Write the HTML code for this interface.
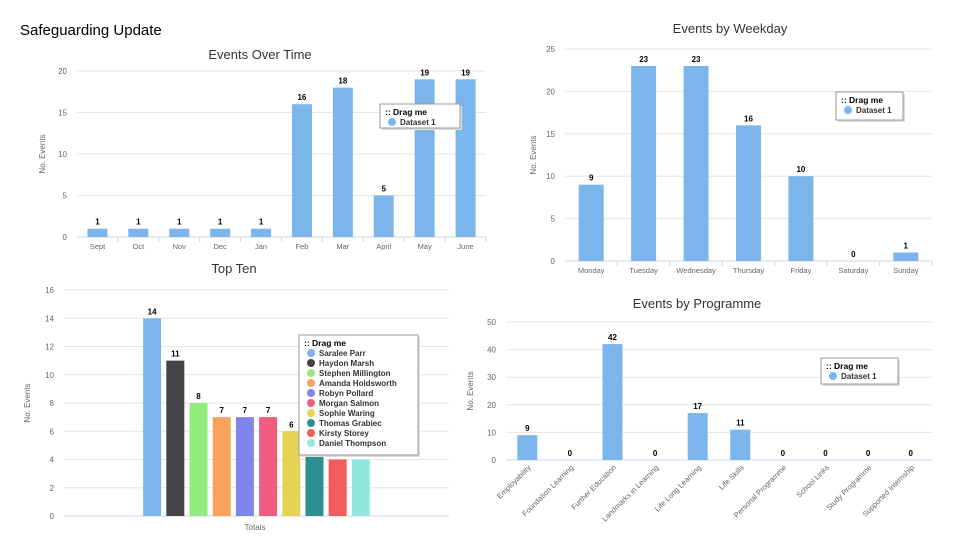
<!DOCTYPE html>
<html><head><meta charset="utf-8"><style>
body{margin:0;width:960px;height:540px;background:#fff;overflow:hidden;font-family:"Liberation Sans",sans-serif;position:relative}
#title{position:absolute;left:20px;top:22px;font-size:15px;color:#000}
svg{position:absolute;left:0;top:0}
</style></head><body>
<div id="title">Safeguarding Update</div>
<svg id="s" width="960" height="540"></svg>
<script>
const timeCats=["Sept","Oct","Nov","Dec","Jan","Feb","Mar","April","May","June"];
const timeVals=[1,1,1,1,1,16,18,5,19,19];
const timeTicks=[0,5,10,15,20];
const dayCats=["Monday","Tuesday","Wednesday","Thursday","Friday","Saturday","Sunday"];
const dayVals=[9,23,23,16,10,0,1];
const dayTicks=[0,5,10,15,20,25];
const topNames=["Saralee Parr","Haydon Marsh","Stephen Millington","Amanda Holdsworth","Robyn Pollard","Morgan Salmon","Sophie Waring","Thomas Grabiec","Kirsty Storey","Daniel Thompson"];
const topVals=[14,11,8,7,7,7,6,5,4,4];
const topTicks=[0,2,4,6,8,10,12,14,16];
const progCats=["Employability","Foundation Learning","Further Education","Landmarks in Learning","Life Long Learning","Life Skills","Personal Programme","School Links","Study Programme","Supported Internship"];
const progVals=[9,0,42,0,17,11,0,0,0,0];
const progTicks=[0,10,20,30,40,50];
const topColors=["#7cb5ec","#434348","#90ed7d","#f7a35c","#8085e9","#f15c80","#e4d354","#2b908f","#f45b5b","#91e8e1"];

const NS="http://www.w3.org/2000/svg";
const svg=document.getElementById('s');
function mk(tag,attrs,parent,txt){const e=document.createElementNS(NS,tag);for(const k in attrs)e.setAttribute(k,attrs[k]);if(txt!==undefined)e.textContent=txt;(parent||svg).appendChild(e);return e;}

function chart(o){
  const g=mk('g',{});
  
  
  const max=o.ticks[o.ticks.length-1];
  const y=v=>o.y0-(v/max)*(o.y0-o.y1);
  const n=o.cats?o.cats.length:o.vals.length;
  const step=(o.x1-o.x0)/(o.slots||n);
  const x=i=>o.x0+(o.offset||0)*step+step*(i+0.5);
  const t=mk('text',{x:o.tx,y:o.ty,'text-anchor':'middle','font-size':o.tsize||13,fill:'#333'},g,o.title);
  
  
  const yt=mk('text',{x:o.yax,y:(o.y0+o.y1)/2,'text-anchor':'middle','font-size':8,fill:'#666',transform:`rotate(-90 ${o.yax} ${(o.y0+o.y1)/2})`},g,'No. Events');
  
  
  o.ticks.forEach(v=>{
    if(v>0){const l=mk('line',{x1:o.x0,x2:o.x1,y1:y(v),y2:y(v),stroke:'#e6e6e6','stroke-width':1},g);
    
    }
    const tl=mk('text',{x:o.x0-10,y:y(v)+3,'text-anchor':'end','font-size':8,fill:'#666'},g,v);
    
    
  });
  const ax=mk('line',{x1:o.x0,x2:o.x1,y1:o.y0,y2:o.y0,stroke:'#ccd6eb','stroke-width':1},g);
  
  
  o.vals.forEach((v,i)=>{
    const b=mk('rect',{x:x(i)-o.bw/2,y:y(v),width:o.bw,height:o.y0-y(v),fill:o.colors?o.colors[i]:'#7cb5ec'},g);
    
    
    const lb=mk('text',{x:x(i),y:y(v)-4,'text-anchor':'middle','font-size':8,'font-weight':'bold',fill:'#000'},g,v);
    
    
  });
  if(o.cats){
    o.cats.forEach((c,i)=>{
      if(!o.rot){const tk=mk('line',{x1:o.x0+step*(i+1),x2:o.x0+step*(i+1),y1:o.y0,y2:o.y0+5,stroke:'#ccd6eb'},g);
      
      }
      const attrs=o.rot?{x:x(i)+4,y:o.y0+8,'text-anchor':'end','font-size':7.5,fill:'#666',transform:`rotate(-45 ${x(i)+4} ${o.y0+8})`}:{x:x(i),y:o.y0+12,'text-anchor':'middle','font-size':7.5,fill:'#666'};
      const cl=mk('text',attrs,g,c);
      
      
    });
  }
  // legend
  const L=o.legend;
  const lg=mk('g',{},g);
  
  
  mk('rect',{x:L.x+2,y:L.y+2,width:L.w,height:L.h,fill:'#ddd'},lg);
  mk('rect',{x:L.x,y:L.y,width:L.w,height:L.h,fill:'#fff',stroke:'#999','stroke-width':1},lg);
  mk('text',{x:L.x+5,y:L.y+11,'font-size':8.5,'font-weight':'bold',fill:'#000'},lg,':: Drag me');
  L.items.forEach((it,i)=>{
    const ey=L.y+21+i*10;
    const e=mk('g',{},lg);
    
    
    mk('circle',{cx:L.x+12,cy:ey-3,r:4,fill:it[1]},e);
    mk('text',{x:L.x+20,y:ey,'font-size':8,'font-weight':'bold',fill:'#333'},e,it[0]);
  });
  return g;
}
chart({name:'events-over-time-chart',title:'Events Over Time',tx:260,ty:59,x0:77,x1:486,y0:237,y1:71,ticks:timeTicks,cats:timeCats,vals:timeVals,bw:20,yax:45,
  legend:{x:380,y:104,w:80,h:24,items:[['Dataset 1','#7cb5ec']]}});
chart({name:'events-by-weekday-chart',title:'Events by Weekday',tx:730,ty:33,x0:565,x1:932,y0:261,y1:49,ticks:dayTicks,cats:dayCats,vals:dayVals,bw:25,yax:536,
  legend:{x:836,y:92,w:67,h:28,items:[['Dataset 1','#7cb5ec']]}});
chart({name:'top-ten-chart',title:'Top Ten',tx:234,ty:273,x0:64,x1:449,y0:516,y1:290,ticks:topTicks,vals:topVals,colors:topColors,bw:18,slots:16.6,offset:3.3,yax:30,
  legend:{x:299,y:335,w:119,h:120,items:topNames.map((n,i)=>[n,topColors[i]])}});
chart({name:'events-by-programme-chart',title:'Events by Programme',tx:697,ty:308,x0:506,x1:932,y0:460,y1:322,ticks:progTicks,cats:progCats,vals:progVals,bw:20,rot:true,yax:473,
  legend:{x:821,y:358,w:77,h:26,items:[['Dataset 1','#7cb5ec']]}});
const tot=mk('text',{x:255,y:530,'text-anchor':'middle','font-size':8,fill:'#666'},svg,'Totals');


</script>
</body></html>
